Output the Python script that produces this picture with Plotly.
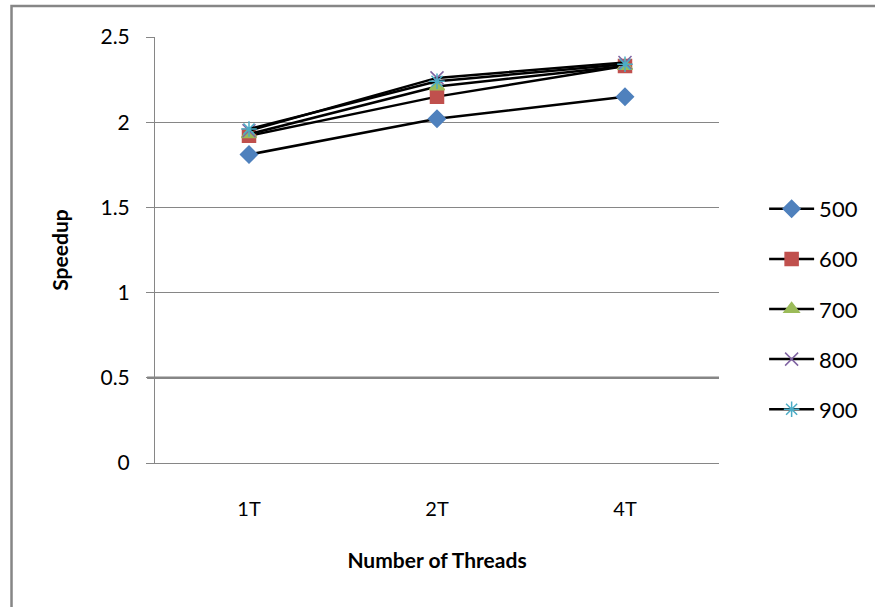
import plotly.graph_objects as go

categories = ["1T", "2T", "4T"]
series_names = ["500", "600", "700", "800", "900"]
s500 = [1.81, 2.02, 2.15]
s600 = [1.92, 2.15, 2.33]
s700 = [1.93, 2.21, 2.33]
s800 = [1.95, 2.26, 2.35]
s900 = [1.96, 2.24, 2.34]
y_ticks = [0, 0.5, 1, 1.5, 2, 2.5]
y_tick_text = ["0", "0.5", "1", "1.5", "2", "2.5"]

values = [s500, s600, s700, s800, s900]
colors = ["#4F81BD", "#C0504D", "#9BBB59", "#8064A2", "#4BACC6"]
symbols = ["diamond", "square", "triangle-up", "x-thin-open", "asterisk-open"]
sizes = [13, 13, 13, 13, 13]

FONT = "Lato"
GRID = "#868686"

fig = go.Figure()
for i, (name, vals) in enumerate(zip(series_names, values)):
    fig.add_trace(go.Scatter(
        x=categories, y=vals, name=name, mode="lines+markers",
        legendgroup=name,
        line=dict(color="black", width=2.5),
        marker=dict(symbol=symbols[i], size=sizes[i], color=colors[i],
                    line=dict(color=colors[i], width=1.5)),
    ))

fig.update_layout(
    width=875, height=607,
    margin=dict(l=155, r=154, t=37, b=144),
    paper_bgcolor="white", plot_bgcolor="white",
    font=dict(family=FONT, size=20, color="black"),
    showlegend=True,
    legend=dict(x=1.08, y=0.3615, xanchor="left", yanchor="middle",
                tracegroupgap=18.5, itemwidth=45, font=dict(family=FONT, size=22),
                bgcolor="rgba(0,0,0,0)"),
    xaxis=dict(
        type="category", range=[-0.5, 2.5],
        showgrid=False, showline=True, linecolor=GRID, linewidth=1,
        ticks="", tickfont=dict(family=FONT, size=20),
        ticklabelstandoff=28,
        title=dict(text="<b>Number of Threads</b>", font=dict(family=FONT, size=21), standoff=34),
    ),
    yaxis=dict(
        range=[0, 2.5], tickvals=y_ticks, ticktext=y_tick_text,
        showgrid=True, gridcolor=GRID, gridwidth=1,
        showline=True, linecolor=GRID, linewidth=1,
        ticks="outside", ticklen=8, tickcolor=GRID,
        tickfont=dict(family=FONT, size=21), ticklabelstandoff=12,
        zeroline=False,
        title=dict(text="<b>Speedup</b>", font=dict(family=FONT, size=21), standoff=26),
    ),
    shapes=[
        dict(type="rect", xref="paper", yref="paper",
             x0=-0.2544, x1=1.35, y0=-0.45, y1=1.0728,
             line=dict(color=GRID, width=2.5), fillcolor="rgba(0,0,0,0)", layer="below"),
        dict(type="line", xref="paper", yref="y", x0=-0.014, x1=1, y0=0.5, y1=0.5,
             line=dict(color=GRID, width=2.5), layer="below"),
    ],
)

fig.write_html("out.html")
